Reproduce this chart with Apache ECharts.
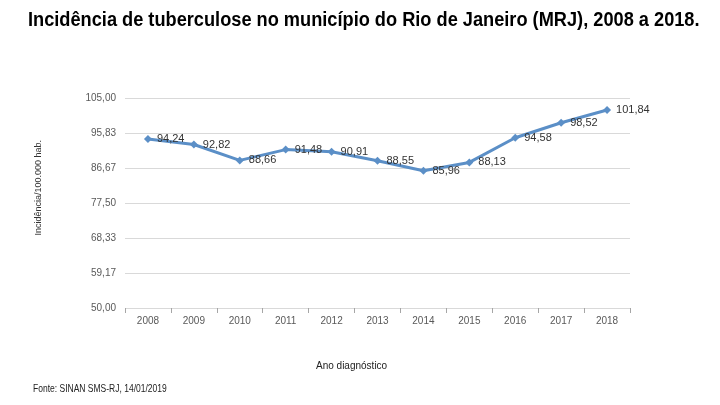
<!DOCTYPE html>
<html>
<head>
<meta charset="utf-8">
<script src="https://cdn.jsdelivr.net/npm/echarts@6/dist/echarts.min.js"></script>
<style>html,body{margin:0;padding:0;background:#fff}#c{width:720px;height:405px}</style>
</head>
<body>
<div id="c"></div>
<script>
var years = ['2008','2009','2010','2011','2012','2013','2014','2015','2016','2017','2018'];
var incidence = [94.24, 92.82, 88.66, 91.48, 90.91, 88.55, 85.96, 88.13, 94.58, 98.52, 101.84];
var yMin = 50, yMax = 105, ySteps = 6;

var fmt = function (v) { return v.toFixed(2).replace('.', ','); };
var chart = echarts.init(document.getElementById('c'));
chart.setOption({
  backgroundColor: '#ffffff',
  animation: false,
  grid: { left: 125, right: 90, top: 98, bottom: 97 },
  xAxis: {
    type: 'category',
    data: years,
    boundaryGap: true,
    axisLine: { show: false },
    axisTick: { show: true, length: 5, lineStyle: { color: '#a6a6a6' } },
    axisLabel: { color: '#595959', fontSize: 10, fontFamily: 'Liberation Sans', margin: 8 },
    splitLine: { show: false }
  },
  yAxis: {
    type: 'value',
    min: yMin, max: yMax, interval: (yMax - yMin) / ySteps,
    axisLine: { show: false },
    axisTick: { show: false },
    axisLabel: { color: '#595959', fontSize: 10, fontFamily: 'Liberation Sans', margin: 9, formatter: fmt },
    splitLine: { lineStyle: { color: '#d9d9d9', width: 1 } }
  },
  series: [{
    type: 'line',
    data: incidence,
    symbol: 'diamond',
    symbolSize: 8,
    lineStyle: { color: '#5b8fc7', width: 3 },
    itemStyle: { color: '#5b8fc7' },
    label: {
      show: true, position: 'right', distance: 5,
      color: '#333333', fontSize: 11, fontFamily: 'Liberation Sans',
      formatter: function (p) { return fmt(p.value); }
    }
  }],
  graphic: [
    { type: 'text', x: 28, y: 10, scaleX: 0.91,
      style: { text: 'Incidência de tuberculose no município do Rio de Janeiro (MRJ), 2008 a 2018.',
               fill: '#000', fontSize: 20, fontWeight: 'bold', fontFamily: 'Liberation Sans' } },
    { type: 'text', left: 34, top: 140, rotation: Math.PI / 2,
      style: { text: 'Incidência/100.000 hab.', fill: '#333', fontSize: 9, fontFamily: 'Liberation Sans' } },
    { type: 'text', left: 316, top: 361,
      style: { text: 'Ano diagnóstico', fill: '#222', fontSize: 10, fontFamily: 'Liberation Sans' } },
    { type: 'text', x: 33, y: 384, scaleX: 0.81,
      style: { text: 'Fonte: SINAN SMS-RJ, 14/01/2019', fill: '#222', fontSize: 10.5, fontFamily: 'Liberation Sans' } }
  ]
});
</script>
</body>
</html>
